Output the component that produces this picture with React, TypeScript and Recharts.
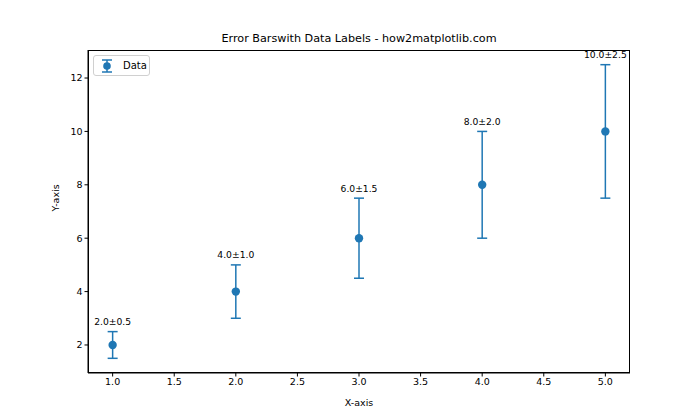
import React from "react";
import {
  ComposedChart,
  Scatter,
  ErrorBar,
  XAxis,
  YAxis,
  LabelList,
} from "recharts";

const xValues = [1, 2, 3, 4, 5];
const yValues = [2, 4, 6, 8, 10];
const yErrors = [0.5, 1.0, 1.5, 2.0, 2.5];
const xTicks = [1.0, 1.5, 2.0, 2.5, 3.0, 3.5, 4.0, 4.5, 5.0];
const yTicks = [2, 4, 6, 8, 10, 12];

const BLUE = "#1f77b4";
const FONT = "DejaVu Sans, sans-serif";

const points = xValues.map((x, i) => ({ x, y: yValues[i], err: yErrors[i] }));
const labelPoints = xValues.map((x, i) => ({
  x,
  y: yValues[i] + yErrors[i],
  label: `${yValues[i].toFixed(1)}±${yErrors[i].toFixed(1)}`,
}));

function Dot(props: any) {
  const { cx, cy } = props;
  return <circle cx={cx} cy={cy} r={4.2} fill={BLUE} />;
}

function LegendBox() {
  return (
    <div
      style={{
        position: "absolute",
        left: 93,
        top: 55,
        border: "1px solid #d0d0d0",
        borderRadius: 3,
        background: "#fff",
        width: 57,
        height: 21,
        display: "flex",
        alignItems: "center",
        fontFamily: FONT,
        fontSize: 10,
        color: "#000",
        boxSizing: "border-box",
      }}
    >
      <svg width={29} height={18}>
        <line x1={13} y1={3} x2={13} y2={15} stroke={BLUE} strokeWidth={1.5} />
        <line x1={8} y1={3} x2={18} y2={3} stroke={BLUE} strokeWidth={1.5} />
        <line x1={8} y1={15} x2={18} y2={15} stroke={BLUE} strokeWidth={1.5} />
        <circle cx={13} cy={9} r={3.8} fill={BLUE} />
      </svg>
      <span>Data</span>
    </div>
  );
}

export default function App() {
  return (
    <div style={{ position: "absolute", left: 0, top: 0, width: 700, height: 420, background: "#fff" }}>
      <div
        style={{
          position: "absolute",
          top: 32,
          left: 88,
          width: 542,
          textAlign: "center",
          fontFamily: FONT,
          fontSize: 11.2,
          color: "#000",
        }}
      >
        Error Barswith Data Labels - how2matplotlib.com
      </div>
      <ComposedChart
        width={700}
        height={420}
        margin={{ top: 50, right: 70, left: 0, bottom: 0 }}
        style={{ fontFamily: FONT }}
      >
        <XAxis
          type="number"
          dataKey="x"
          domain={[0.8, 5.2]}
          ticks={xTicks}
          tickFormatter={(v: number) => v.toFixed(1)}
          height={47}
          stroke="#000"
          tickSize={3.5}
          tick={{ fontSize: 9.5, fill: "#000" }}
          label={{ value: "X-axis", position: "insideBottom", offset: 14, fontSize: 9.5, fill: "#000" }}
        />
        <YAxis
          type="number"
          dataKey="y"
          domain={[0.95, 13.05]}
          ticks={yTicks}
          width={88}
          stroke="#000"
          tickSize={3.5}
          tick={{ fontSize: 9.5, fill: "#000" }}
          label={{ value: "Y-axis", angle: -90, position: "insideLeft", offset: 56, fontSize: 9.5, fill: "#000" }}
        />
        <Scatter name="Data" data={points} fill={BLUE} shape={<Dot />} isAnimationActive={false}>
          <ErrorBar dataKey="err" direction="y" width={5} stroke={BLUE} strokeWidth={1.5} />
        </Scatter>
        <Scatter
          data={labelPoints}
          legendType="none"
          shape={() => <g />}
          isAnimationActive={false}
        >
          <LabelList dataKey="label" position="top" offset={2} fontSize={9.2} fill="#000" />
        </Scatter>
      </ComposedChart>
      <div
        style={{
          position: "absolute",
          left: 88,
          top: 50,
          width: 542,
          height: 323,
          border: "1px solid #000",
          boxSizing: "border-box",
          pointerEvents: "none",
        }}
      />
      <LegendBox />
    </div>
  );
}
